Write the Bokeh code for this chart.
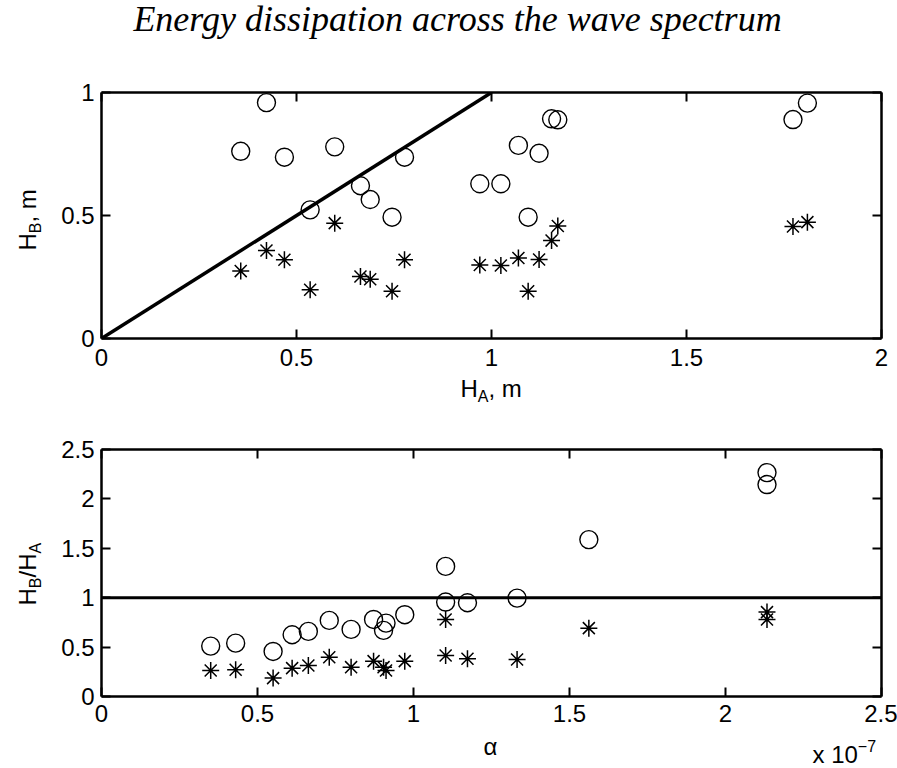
import math
from bokeh.plotting import figure
from bokeh.models import (LinearAxis, FixedTicker, CustomJSTickFormatter, Range1d)
from bokeh.layouts import column, row
from bokeh.core.properties import value
from bokeh.embed import file_html
from bokeh.resources import INLINE

# ---------------- data ----------------
TITLE = "Energy dissipation across the wave spectrum"

# top panel: wave height at A (m) and at B (m) for two sets
h_a = [0.357, 0.423, 0.469, 0.535, 0.598, 0.664, 0.689, 0.745, 0.777,
       0.970, 1.024, 1.069, 1.094, 1.122, 1.154, 1.170, 1.773, 1.810]
h_b_circle = [0.761, 0.959, 0.737, 0.523, 0.779, 0.621, 0.565, 0.493, 0.737,
              0.629, 0.629, 0.785, 0.493, 0.753, 0.893, 0.889, 0.890, 0.957]
h_b_star = [0.274, 0.358, 0.320, 0.198, 0.469, 0.252, 0.241, 0.192, 0.320,
            0.299, 0.297, 0.327, 0.192, 0.321, 0.398, 0.457, 0.455, 0.473]
diag_x = [0, 1]
diag_y = [0, 1]

# bottom panel: alpha (x 1e-7) and ratio H_B/H_A
alpha_e7 = [0.350, 0.430, 0.550, 0.611, 0.663, 0.730, 0.800, 0.872, 0.904,
            0.912, 0.972, 1.103, 1.103, 1.173, 1.332, 1.562, 2.133, 2.133]
ratio_circle = [0.510, 0.540, 0.456, 0.625, 0.659, 0.770, 0.679, 0.780, 0.669,
                0.743, 0.828, 1.317, 0.956, 0.949, 0.996, 1.588, 2.266, 2.145]
ratio_star = [0.263, 0.270, 0.186, 0.287, 0.314, 0.398, 0.297, 0.358, 0.297,
              0.263, 0.358, 0.780, 0.415, 0.382, 0.375, 0.692, 0.854, 0.780]
ref_x = [0, 2.5]
ref_y = [1, 1]

top_xticks = [0, 0.5, 1, 1.5, 2]
top_yticks = [0, 0.5, 1]
bot_xticks = [0, 0.5, 1, 1.5, 2, 2.5]
bot_yticks = [0, 0.5, 1, 1.5, 2, 2.5]

# ---------------- styling helpers ----------------
SANS = "Liberation Sans"
SERIF = "Liberation Serif"
FS = 24
SUB = 16
MID = 0.35          # middle of the em box above the baseline, in em
ROT_FIX = 29        # along-text correction for the rotated labels
WIDTH = {"H": 0.722, "A": 0.667, "B": 0.667, ",": 0.278, " ": 0.278,
         "m": 0.833, "/": 0.278, "x": 0.5, "1": 0.556, "0": 0.556}
FULL_W = 897
LAB_W = 48


def text_width(s, size):
    return sum(WIDTH.get(c, 0.556) for c in s) * size


fmt = CustomJSTickFormatter(code="return tick.toString();")
blank = CustomJSTickFormatter(code="return '';")


def style_axis(ax, ticks, labels=True, standoff=7):
    ax.ticker = FixedTicker(ticks=ticks)
    ax.formatter = fmt if labels else blank
    ax.major_tick_in = 9
    ax.major_tick_out = 0
    ax.minor_tick_in = 0
    ax.minor_tick_out = 0
    ax.major_tick_line_width = 2
    ax.major_tick_line_color = "black"
    ax.axis_line_width = 2.5
    ax.axis_line_color = "black"
    ax.major_label_text_font = SANS
    ax.major_label_text_font_size = f"{FS}px" if labels else "0px"
    ax.major_label_text_color = "black"
    ax.major_label_standoff = standoff if labels else 0
    ax.axis_label = None


def make_fig(xr, yr, fh, top, bottom, xt, yt, xstand):
    p = figure(frame_width=780, frame_height=fh, x_range=Range1d(*xr), y_range=Range1d(*yr),
               output_backend="svg", toolbar_location=None, title=None,
               min_border_left=53, min_border_right=16,
               min_border_top=top, min_border_bottom=bottom)
    p.grid.visible = False
    p.outline_line_color = None
    p.background_fill_color = "white"
    p.border_fill_color = "white"
    p.add_layout(LinearAxis(), "above")
    p.add_layout(LinearAxis(), "right")
    style_axis(p.below[0], xt, True, standoff=xstand)
    style_axis(p.left[0], yt, True, standoff=7)
    style_axis(p.above[-1], xt, False)
    style_axis(p.right[0], yt, False)
    return p


def label_fig(w, h):
    f = figure(frame_width=w, frame_height=h, x_range=Range1d(0, w), y_range=Range1d(0, h),
               x_axis_type=None, y_axis_type=None, output_backend="svg",
               toolbar_location=None, min_border=0, title=None)
    f.outline_line_color = None
    f.background_fill_color = "white"
    f.border_fill_color = "white"
    f.grid.visible = False
    return f


def put_pieces(f, x0, y0, pieces, rotated=False, font=SANS):
    """x0, y0: start of the baseline.  pieces: (text, size, shift); shift > 0 lowers it."""
    along = 0.0
    for txt, size, shift in pieces:
        lift = MID * size
        if rotated:
            x, y, ang = x0 + shift - lift, y0 + along + ROT_FIX, math.pi / 2
        else:
            x, y, ang = x0 + along, y0 - shift + lift, 0.0
        f.text(x=[x], y=[y], text=[txt], angle=ang, text_font=value(font),
               text_font_size=value(f"{size}px"), text_align="left",
               text_baseline="middle", text_color="black")
        along += text_width(txt, size)


# ---------------- title strip ----------------
TITLE_H = 60
tf = label_fig(FULL_W, TITLE_H)
tf.text(x=[457], y=[TITLE_H - 31 + MID * 36], text=[TITLE], text_font=value(SERIF),
        text_font_style="italic", text_font_size=value("36px"), text_align="center",
        text_baseline="middle", text_color="black")

# ---------------- top figure ----------------
P1_TOP, P1_BOT = 32, 38
p1 = make_fig((0, 2), (0, 1), 246, P1_TOP, P1_BOT, top_xticks, top_yticks, 10)
p1.line(diag_x, diag_y, line_color="black", line_width=3.5)
p1.scatter(h_a, h_b_circle, marker="circle", size=18, fill_color=None,
           line_color="black", line_width=1.4)
p1.scatter(h_a, h_b_star, marker="asterisk", size=17, line_color="black", line_width=1.5)
H1 = P1_TOP + 246 + P1_BOT

yl1 = label_fig(LAB_W, H1)
put_pieces(yl1, 35, H1 - (247 - TITLE_H), [("H", FS, 0), ("B", SUB, 6), (", m", FS, 0)],
           rotated=True)

XL1_H = 44
xl1 = label_fig(FULL_W, XL1_H)
put_pieces(xl1, 460, XL1_H - 20, [("H", FS, 0), ("A", SUB, 6), (", m", FS, 0)])

# ---------------- bottom figure ----------------
P2_TOP, P2_BOT = 29, 36
p2 = make_fig((0, 2.5), (0, 2.5), 247, P2_TOP, P2_BOT, bot_xticks, bot_yticks, 8)
p2.line(ref_x, ref_y, line_color="black", line_width=3)
p2.scatter(alpha_e7, ratio_circle, marker="circle", size=18, fill_color=None,
           line_color="black", line_width=1.4)
p2.scatter(alpha_e7, ratio_star, marker="asterisk", size=17, line_color="black", line_width=1.5)
H2 = P2_TOP + 247 + P2_BOT

y2_top = TITLE_H + H1 + XL1_H
yl2 = label_fig(LAB_W, H2)
put_pieces(yl2, 35, H2 - (605 - y2_top),
           [("H", FS, 0), ("B", SUB, 6), ("/H", FS, 0), ("A", SUB, 6)], rotated=True)

XL2_H = 36
xl2 = label_fig(FULL_W, XL2_H)
xl2.text(x=[490], y=[XL2_H - 22 + MID * FS], text=["α"], text_font=value(SANS),
         text_font_size=value(f"{FS}px"), text_align="center",
         text_baseline="middle", text_color="black")
put_pieces(xl2, 812, XL2_H - 30, [("x 10", FS, 0), ("\u22127", SUB, -11)])

layout = column(tf, row(yl1, p1, spacing=0), xl1, row(yl2, p2, spacing=0), xl2, spacing=0)
open("out.html", "w").write(file_html(layout, INLINE))
